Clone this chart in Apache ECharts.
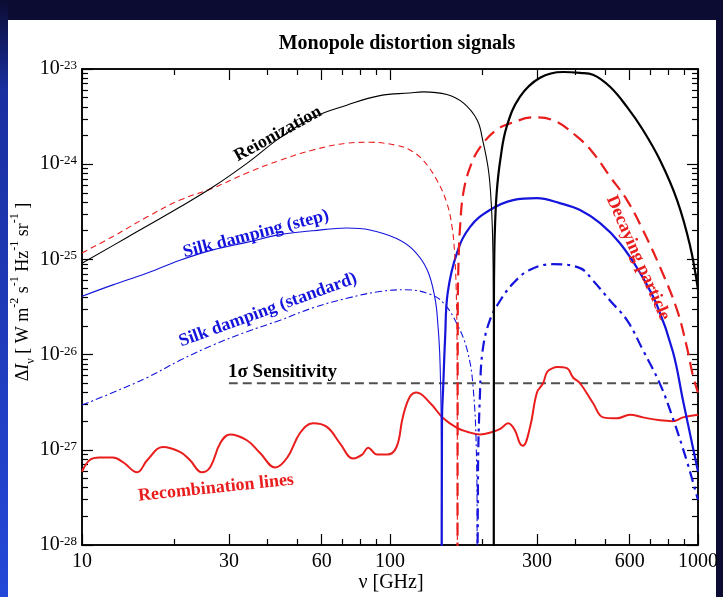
<!DOCTYPE html>
<html><head><meta charset="utf-8">
<script src="https://cdn.jsdelivr.net/npm/echarts@6/dist/echarts.min.js"></script>
<style>html,body{margin:0;padding:0;background:#fff}#c{width:723px;height:597px}</style>
</head><body><div id="c"></div>
<script>
// ---- tick definitions ----
const xMajorTicks = [10, 30, 60, 100, 300, 600, 1000];
const xMinorTicks = [20, 40, 50, 70, 80, 90, 200, 400, 500, 700, 800, 900];
const yDecades = [-28, -27, -26, -25, -24, -23];
const yMinorMantissas = [2, 3, 4, 5, 6, 7, 8, 9];

// ---- data: [frequency GHz, |ΔI| W m^-2 s^-1 Hz^-1 sr^-1] ----
const reionLow = [[10,9.1e-26],[14,1.7e-25],[20.8,3.55e-25],[26.6,5.75e-25],[34.3,1.02e-24],[44,1.9e-24],[56.2,3.1e-24],[72.4,4.17e-24],[92.8,5.25e-24],[116,5.6e-24],[128,5.75e-24],[153,5.4e-24],[173,4.4e-24],[192,2.9e-24],[200,1.78e-24],[208,9.4e-25],[212,5.2e-25],[215,2.1e-25],[216.5,5e-26],[216.9,1e-26],[217,1e-30]];
const reionHigh = [[217.1,1e-30],[217.5,4e-26],[218,1e-25],[219,2e-25],[222,5e-25],[228,1.1e-24],[239,2.45e-24],[264,5.1e-24],[307,8.1e-24],[365,9.3e-24],[414,9.1e-24],[456,8.7e-24],[518,6.5e-24],[588,4.0e-24],[662,2.3e-24],[753,1.1e-24],[855,4.2e-25],[942,1.4e-25],[1000,4.8e-26]];
const decayLow = [[10,1.17e-25],[12.6,1.74e-25],[16.3,2.8e-25],[20.8,4.2e-25],[26.6,5.6e-25],[34.3,8.1e-25],[44,1.1e-24],[56.2,1.41e-24],[72.4,1.66e-24],[86.1,1.7e-24],[105,1.58e-24],[116,1.41e-24],[128,1.1e-24],[142,6.8e-25],[153,3.9e-25],[159,2.2e-25],[162,1.2e-25],[164,5e-26],[165,1.6e-26],[165.4,3e-27],[165.5,1e-30]];
const decayHigh = [[165.6,1e-30],[166,3.3e-26],[167,1e-25],[169,2.3e-25],[173,5e-25],[182,9.3e-25],[196,1.5e-24],[222,2.3e-24],[251,2.75e-24],[291,3.1e-24],[338,2.9e-24],[405,1.95e-24],[456,1.32e-24],[518,7.4e-25],[588,4.2e-25],[662,2.04e-25],[753,8.3e-26],[855,2.95e-26],[920,1.2e-26],[963,6e-27],[1000,4e-27]];
const silkStepLow = [[10,4.1e-26],[12.6,5.4e-26],[16.3,7.2e-26],[20.8,9.8e-26],[26.6,1.26e-25],[34.3,1.51e-25],[44,1.82e-25],[56.2,2.0e-25],[72.4,2.14e-25],[86.1,2.04e-25],[105,1.66e-25],[119,1.26e-25],[132,7.8e-26],[140,3.9e-26],[143,2.1e-26],[145,1.04e-26],[146.5,2.6e-27],[146.9,5e-28],[147,1e-30]];
const silkStepHigh = [[147.05,1e-30],[147.5,2e-27],[149,5e-27],[151,1.5e-26],[154,4.5e-26],[165,1.17e-25],[182,2.2e-25],[211,3.3e-25],[251,4.2e-25],[300,4.4e-25],[356,3.9e-25],[414,3.3e-25],[481,2.4e-25],[558,1.48e-25],[649,7.2e-26],[736,3.3e-26],[829,1.07e-26],[894,3.3e-27],[963,1.05e-27],[1000,5.9e-28]];
const silkStdLow = [[10,2.95e-27],[12.6,4.0e-27],[16.3,5.75e-27],[20.8,8.7e-27],[26.6,1.26e-26],[34.3,1.74e-26],[44,2.3e-26],[56.2,3.1e-26],[72.4,3.9e-26],[92.8,4.6e-26],[113,4.8e-26],[135,4.3e-26],[149,3.5e-26],[165,2.1e-26],[178,1.12e-26],[186,4.7e-27],[191,7.8e-28],[191.8,1.5e-28],[192,1e-30]];
const silkStdHigh = [[192.1,1e-30],[193,5e-28],[196,4e-27],[200,1.12e-26],[211,2.3e-26],[228,3.7e-26],[251,5.6e-26],[285,7.8e-26],[338,8.9e-26],[414,8.1e-26],[456,6.0e-26],[518,3.7e-26],[588,2.3e-26],[662,1.12e-26],[753,4.9e-27],[829,2.14e-27],[920,7.6e-28],[994,3.2e-28],[1000,3e-28]];
const recombination = [[10,5.9e-28],[10.6,7.8e-28],[11.4,8.3e-28],[12.6,8.3e-28],[13.6,7.4e-28],[15.1,5.8e-28],[16.3,7.8e-28],[18.3,1.07e-27],[20.8,9.5e-28],[22.4,7.8e-28],[24.5,5.8e-28],[26.1,6.6e-28],[28.1,1.17e-27],[30.2,1.45e-27],[34.3,1.26e-27],[37.8,9.3e-28],[42.4,6.5e-28],[46.4,8.3e-28],[51.1,1.51e-27],[56.2,1.9e-27],[62.4,1.74e-27],[68.8,1.17e-27],[75.9,8.1e-28],[81.2,8.9e-28],[84.9,1.05e-27],[90.8,8.9e-28],[97.8,8.9e-28],[105,1.07e-27],[110,2.19e-27],[116,3.6e-27],[122,4.0e-27],[135,3.1e-27],[149,2.14e-27],[165,1.7e-27],[178,1.55e-27],[196,1.45e-27],[216,1.55e-27],[228,1.66e-27],[242,1.9e-27],[255,1.58e-27],[264,1.17e-27],[270,1.1e-27],[285,1.74e-27],[300,4.0e-27],[314,5.0e-27],[324,6.6e-27],[338,7.2e-27],[348,7.4e-27],[375,7.2e-27],[393,5.75e-27],[414,5.0e-27],[456,3.1e-27],[492,2.19e-27],[546,2.14e-27],[601,2.34e-27],[662,2.19e-27],[753,2.04e-27],[829,2.0e-27],[894,2.19e-27],[1000,2.34e-27]];
const sensitivity = [[30,5e-27],[800,5e-27]];

const labels = {
  title: 'Monopole distortion signals',
  reion: 'Reionization',
  step: 'Silk damping (step)',
  standard: 'Silk damping (standard)',
  sens: '1σ Sensitivity',
  recomb: 'Recombination lines',
  decay: 'Decaying particle',
  xName: 'ν [GHz]'
};

// ---- styling ----
const FONT = '"Liberation Serif","Times New Roman",serif';
const BLACK = '#000', RED = '#ea1d1d', BLUE = '#1414dc', GRAY = '#505050';
const lg = Math.log10;
const xMinorLog = xMinorTicks.map(lg);
const xMajorLog = xMajorTicks.map(lg);
const yMinorLog = yDecades.slice(0, -1).flatMap(d => yMinorMantissas.map(m => d + lg(m)));

function decoX(pos, vals, len, withLabels) {
  return {
    type: 'value', position: pos, min: 1, max: 3,
    axisLine: {show: true, onZero: false, lineStyle: {color: BLACK, width: 1.5}},
    axisTick: {show: true, inside: true, length: len, customValues: vals, lineStyle: {color: BLACK, width: 1.2}},
    axisLabel: withLabels ? {show: true, customValues: vals, margin: 7,
      formatter: v => String(Math.round(Math.pow(10, v))),
      fontFamily: FONT, fontSize: 20, color: BLACK} : {show: false},
    splitLine: {show: false}
  };
}
function decoY(pos, vals, len, withLabels) {
  return {
    type: 'value', position: pos, min: -28, max: -23,
    axisLine: {show: true, onZero: false, lineStyle: {color: BLACK, width: 1.5}},
    axisTick: {show: true, inside: true, length: len, customValues: vals, lineStyle: {color: BLACK, width: 1.2}},
    axisLabel: withLabels ? {show: true, customValues: vals, margin: 5,
      formatter: v => '{b|10}{s|' + Math.round(v) + '}',
      rich: {
        b: {fontFamily: FONT, fontSize: 20, lineHeight: 20, verticalAlign: 'bottom', color: BLACK},
        s: {fontFamily: FONT, fontSize: 13, lineHeight: 13, verticalAlign: 'top', padding: [0, 0, 15, 0], color: BLACK}
      }} : {show: false},
    splitLine: {show: false}
  };
}
function line(data, color, width, type, z) {
  return {type: 'line', xAxisIndex: 0, yAxisIndex: 0, data: data, symbol: 'none', showSymbol: false,
    smooth: 0.4, clip: true, silent: true, z: z || 2,
    lineStyle: {color: color, width: width, type: type}};
}
function txt(text, x, y, deg, color, size) {
  return {type: 'text', x: x, y: y, rotation: deg * Math.PI / 180, z: 100,
    style: {text: text, fill: color, font: 'bold ' + size + 'px ' + FONT,
      align: 'center', verticalAlign: 'middle', textAlign: 'center', textVerticalAlign: 'middle'}};
}

const chart = echarts.init(document.getElementById('c'), null, {renderer: 'canvas'});
chart.setOption({
  animation: false,
  backgroundColor: '#ffffff',
  grid: {left: 82, top: 69, width: 616, height: 476},
  xAxis: [
    {type: 'log', logBase: 10, min: 10, max: 1000, show: false},
    decoX('bottom', xMajorLog, 11, true),
    decoX('bottom', xMinorLog, 6, false),
    decoX('top', xMajorLog, 11, false),
    decoX('top', xMinorLog, 6, false)
  ],
  yAxis: [
    {type: 'log', logBase: 10, min: 1e-28, max: 1e-23, show: false},
    decoY('left', yDecades, 11, true),
    decoY('left', yMinorLog, 6, false),
    decoY('right', yDecades, 11, false),
    decoY('right', yMinorLog, 6, false)
  ],
  series: [
    line(sensitivity, GRAY, 1.8, [9, 5], 1),
    line(recombination, RED, 2, 'solid'),
    line(silkStdLow, BLUE, 1.1, [7, 3, 2, 3]),
    line(silkStdHigh, BLUE, 2.2, [11, 5, 3, 5]),
    line(silkStepLow, BLUE, 1.1, 'solid'),
    line(silkStepHigh, BLUE, 2.2, 'solid'),
    line(decayLow, RED, 1.1, [6, 4]),
    line(decayHigh, RED, 2.2, [13, 7]),
    line(reionLow, BLACK, 1.1, 'solid'),
    line(reionHigh, BLACK, 2.2, 'solid')
  ],
  graphic: [
    {type: 'rect', shape: {x: 0, y: 0, width: 723, height: 20}, style: {fill: '#0c0c32'}, z: 0},
    {type: 'rect', shape: {x: 0, y: 0, width: 8, height: 597},
      style: {fill: new echarts.graphic.LinearGradient(0, 0, 0, 1, [{offset: 0, color: '#0c0c32'}, {offset: 0.15, color: '#1a2fa0'}, {offset: 1, color: '#2448d8'}])}, z: 0},
    {type: 'rect', shape: {x: 716, y: 0, width: 7, height: 597}, style: {fill: '#0c0c32'}, z: 0},
    txt(labels.title, 397, 44, 0, BLACK, 20),
    txt(labels.reion, 278, 134, 29, BLACK, 18),
    txt(labels.step, 256, 234, 14.5, BLUE, 18),
    txt(labels.standard, 268, 310, 20, BLUE, 18),
    {type: 'text', x: 228, y: 372, z: 100,
      style: {text: labels.sens, fill: BLACK, font: 'bold 19px ' + FONT, align: 'left', verticalAlign: 'middle', textAlign: 'left', textVerticalAlign: 'middle'}},
    txt(labels.recomb, 216, 488, 6, RED, 18),
    txt(labels.decay, 638, 258, -66, RED, 18),
    {type: 'text', x: 391, y: 583, z: 100,
      style: {text: labels.xName, fill: BLACK, font: '20px ' + FONT, align: 'center', verticalAlign: 'middle', textAlign: 'center', textVerticalAlign: 'middle'}},
    {type: 'text', x: 23, y: 292, rotation: Math.PI / 2, z: 100,
      style: {
        text: '{n|Δ}{i|I}{sub|ν}{n| [ W m}{sup|-2}{n| s}{sup|-1}{n| Hz}{sup|-1}{n| sr}{sup|-1}{n| ]}',
        align: 'center', verticalAlign: 'middle', textAlign: 'center', textVerticalAlign: 'middle',
        rich: {
          n: {fontFamily: FONT, fontSize: 18, lineHeight: 28, verticalAlign: 'middle', fill: BLACK},
          i: {fontFamily: FONT, fontStyle: 'italic', fontSize: 18, lineHeight: 28, verticalAlign: 'middle', fill: BLACK},
          sub: {fontFamily: FONT, fontSize: 12, lineHeight: 12, verticalAlign: 'bottom', fill: BLACK},
          sup: {fontFamily: FONT, fontSize: 12, lineHeight: 12, verticalAlign: 'top', fill: BLACK}
        }
      }}
  ]
});
</script></body></html>
